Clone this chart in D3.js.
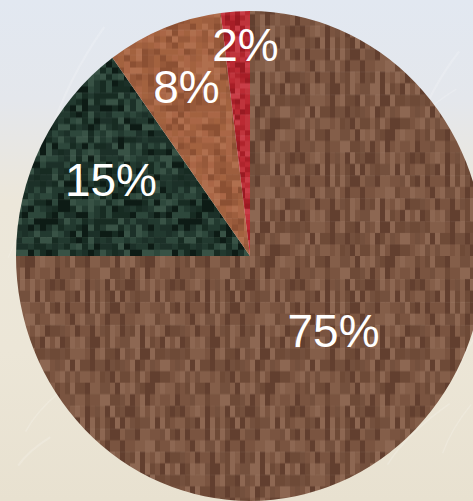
<!DOCTYPE html>
<html>
<head>
<meta charset="utf-8">
<script src="https://cdn.jsdelivr.net/npm/d3@7/dist/d3.min.js"></script>
<style>
  html, body { margin: 0; padding: 0; background: #e8e6e0; }
  svg { display: block; }
</style>
</head>
<body>
<svg id="chart" width="473" height="501"></svg>
<script>
// ---- data ----
const categories = ["A", "B", "C", "D"];
const values = [75, 15, 8, 2];
const labels = ["75%", "15%", "8%", "2%"];

// ---- style ----
const palettes = [
  ["#7a5440", "#6e4a37", "#845e49", "#623f2f", "#8d6752", "#74503d"], // brown
  ["#22392f", "#172b22", "#2d473b", "#0d1b15", "#385245", "#1c3028"], // dark green
  ["#a3623f", "#97593a", "#b06f4e", "#8c5033", "#aa6646", "#9e5e3e"], // copper
  ["#bb2a33", "#a81e27", "#c93d47", "#9a1a22", "#c0343c", "#b0242c"]  // red
];
const blockSizes = [[5, 11], [6, 6], [6, 6], [5, 5]];
const labelFracX = [0.505, 0.667, 0.737, 0.31];
const labelFracY = [0.433, 0.683, 0.742, 0.863];

const W = 473, H = 501;
const cx = 250, cy = 256, rx = 234, ry = 245;

const svg = d3.select("#chart");
const defs = svg.append("defs");

// background gradient (sky to dry grass)
const bg = defs.append("linearGradient").attr("id", "bg").attr("x1", 0).attr("y1", 0).attr("x2", 0).attr("y2", 1);
[[0, "#e2e8f1"], [0.2, "#e4e7ec"], [0.4, "#ece7da"], [0.7, "#ece6d7"], [1, "#e8e1d0"]]
  .forEach(([o, c]) => bg.append("stop").attr("offset", o).attr("stop-color", c));
svg.append("rect").attr("width", W).attr("height", H).attr("fill", "url(#bg)");

// faint grass streaks (deterministic texture)
function hash(n) { const s = Math.sin(n * 127.1 + 311.7) * 43758.5453; return s - Math.floor(s); }
const streaks = svg.append("g").attr("stroke", "#ffffff").attr("stroke-opacity", 0.18).attr("fill", "none");
for (let i = 0; i < 60; i++) {
  const x = hash(i) * W, y = 120 + hash(i + 100) * 380;
  const len = 40 + hash(i + 200) * 90, ang = -1.2 + hash(i + 300) * 0.6;
  streaks.append("path")
    .attr("d", `M${x},${y} q${Math.cos(ang) * len * 0.3},${Math.sin(ang) * len * 0.5} ${Math.cos(ang) * len},${Math.sin(ang) * len}`)
    .attr("stroke-width", 1 + hash(i + 400) * 1.5);
}

// pixel-block textures
palettes.forEach((pal, k) => {
  const [bw, bh] = blockSizes[k];
  const pw = bw * 24, ph = bh * Math.round(120 / bh);
  const p = defs.append("pattern").attr("id", "tex" + k)
    .attr("patternUnits", "userSpaceOnUse").attr("width", pw).attr("height", ph);
  for (let i = 0; i < pw / bw; i++) {
    for (let j = 0; j < ph / bh; j++) {
      const h = hash(k * 10007 + i * 131 + j * 17.3);
      p.append("rect").attr("x", i * bw).attr("y", j * bh)
        .attr("width", bw + 0.5).attr("height", bh + 0.5)
        .attr("fill", pal[Math.floor(h * pal.length)]);
    }
  }
});

// pie
const pie = d3.pie().sort(null).value(d => d)(values);
const arc = d3.arc().innerRadius(0).outerRadius(rx);

const g = svg.append("g").attr("transform", `translate(${cx},${cy}) scale(1,${ry / rx})`);
g.selectAll("path.slice").data(pie).join("path")
  .attr("class", "slice")
  .attr("d", arc)
  .attr("fill", (d, i) => `url(#tex${i})`);

// labels
const lg = svg.append("g").attr("transform", `translate(${cx},${cy})`);
lg.selectAll("text").data(pie).join("text")
  .attr("x", (d, i) => Math.sin((d.startAngle + d.endAngle) / 2) * rx * labelFracX[i])
  .attr("y", (d, i) => -Math.cos((d.startAngle + d.endAngle) / 2) * ry * labelFracY[i])
  .attr("text-anchor", "middle")
  .attr("dominant-baseline", "central")
  .attr("font-family", "'Liberation Sans', Arial, sans-serif")
  .attr("font-size", 46)
  .attr("fill", "#ffffff")
  .text((d, i) => labels[i]);
</script>
</body>
</html>
